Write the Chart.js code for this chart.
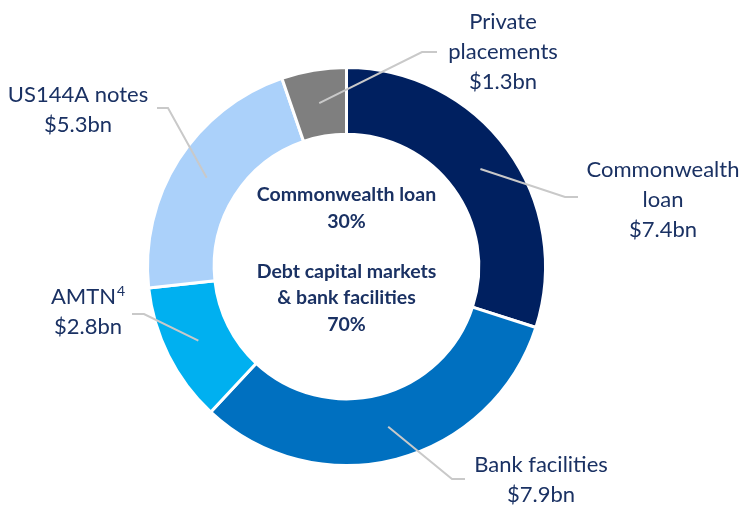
<!DOCTYPE html>
<html>
<head>
<meta charset="utf-8">
<script src="https://cdn.jsdelivr.net/npm/chart.js@4"></script>
<style>
  html, body { margin: 0; padding: 0; background: #fff; }
  #wrap { width: 746px; height: 505px; }
</style>
</head>
<body>
<div id="wrap"><canvas id="debtChart"></canvas></div>
<script>
// funding sources, in $bn
const categories = ["Commonwealth loan", "Bank facilities", "AMTN", "US144A notes", "Private placements"];
const amounts = [7.4, 7.9, 2.8, 5.3, 1.3];
const valueLabels = ["$7.4bn", "$7.9bn", "$2.8bn", "$5.3bn", "$1.3bn"];
const sliceColors = ["#002060", "#0070C0", "#00B0F0", "#ABD1FA", "#7F7F7F"];
const centreLines = ["Commonwealth loan", "30%", "", "Debt capital markets", "& bank facilities", "70%"];

const textColor = "#1A3163";
const labelFont = "22px Lato";

// label text lines, where each label sits and how its leader line bends
const calloutLayout = [
    { lines: ["Commonwealth", "loan", "$7.4bn"], x: 663, y: 170, elbow: [565, 197], end: [578, 197] },
    { lines: ["Bank facilities", "$7.9bn"], x: 541, y: 465, elbow: [452, 479], end: [465, 479] },
    { lines: ["AMTN", "$2.8bn"], x: 88, y: 297, elbow: [144, 314], end: [132, 314], sup: "4" },
    { lines: ["US144A notes", "$5.3bn"], x: 78, y: 95, elbow: [168, 108], end: [157, 108] },
    { lines: ["Private", "placements", "$1.3bn"], x: 503, y: 22, elbow: [422, 52], end: [437, 52] }
];

const calloutPlugin = {
    id: "callouts",
    afterDatasetsDraw(chart) {
        const ctx = chart.ctx;
        const arcs = chart.getDatasetMeta(0).data;
        ctx.save();
        arcs.forEach((arc, i) => {
            const c = calloutLayout[i];
            const p = arc.tooltipPosition();
            ctx.strokeStyle = "#C9C9C9";
            ctx.lineWidth = 2;
            ctx.beginPath();
            ctx.moveTo(p.x, p.y);
            ctx.lineTo(c.elbow[0], c.elbow[1]);
            ctx.lineTo(c.end[0], c.end[1]);
            ctx.stroke();

            ctx.fillStyle = textColor;
            ctx.font = labelFont;
            ctx.textAlign = "center";
            ctx.textBaseline = "middle";
            c.lines.forEach((line, j) => {
                const y = c.y + j * 30;
                if (j === 0 && c.sup) {
                    const w = ctx.measureText(line).width;
                    ctx.font = "14px Lato";
                    const sw = ctx.measureText(c.sup).width;
                    ctx.font = labelFont;
                    ctx.textAlign = "left";
                    const x0 = c.x - (w + sw + 1) / 2;
                    ctx.fillText(line, x0, y);
                    ctx.font = "14px Lato";
                    ctx.fillText(c.sup, x0 + w + 1, y - 6);
                    ctx.font = labelFont;
                    ctx.textAlign = "center";
                } else {
                    ctx.fillText(line, c.x, y);
                }
            });
        });

        // centre text
        const cx = (chart.chartArea.left + chart.chartArea.right) / 2;
        ctx.font = "bold 19.5px Lato";
        ctx.fillStyle = textColor;
        ctx.textAlign = "center";
        ctx.textBaseline = "middle";
        const ys = [195, 222, 0, 272, 298, 325];
        centreLines.forEach((line, j) => {
            if (line) ctx.fillText(line, cx, ys[j]);
        });
        ctx.restore();
    }
};

new Chart(document.getElementById("debtChart"), {
    type: "doughnut",
    data: {
        labels: categories,
        datasets: [{
            data: amounts,
            backgroundColor: sliceColors,
            borderColor: "#FFFFFF",
            borderWidth: 3
        }]
    },
    options: {
        responsive: true,
        maintainAspectRatio: false,
        animation: false,
        cutout: "66.5%",
        layout: {
            padding: { left: 146, right: 199, top: 66, bottom: 38 }
        },
        plugins: {
            legend: { display: false },
            tooltip: { enabled: false }
        }
    },
    plugins: [calloutPlugin]
});
</script>
</body>
</html>
